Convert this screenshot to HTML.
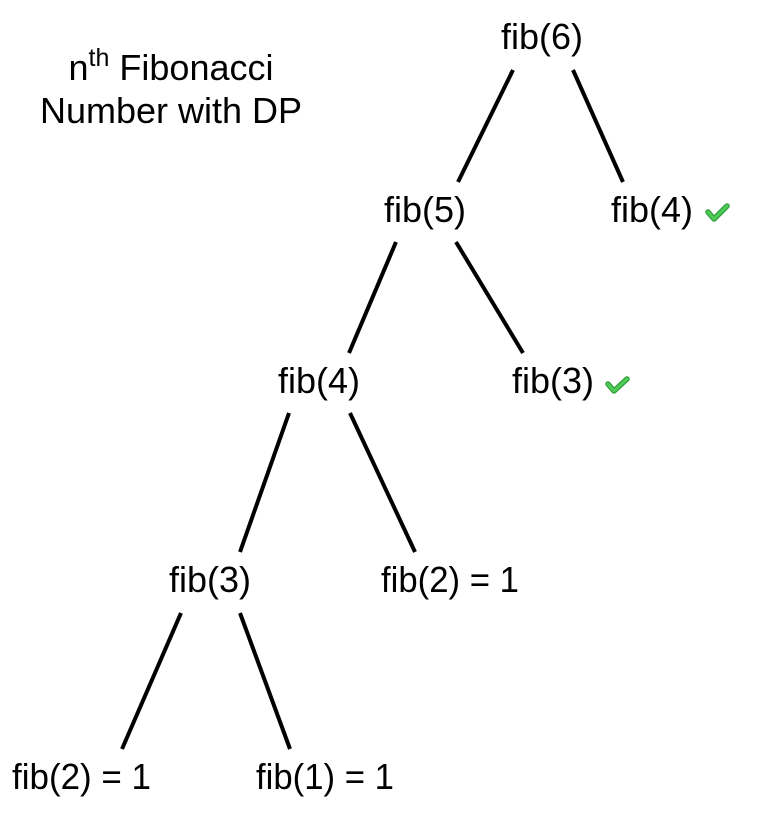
<!DOCTYPE html>
<html>
<head>
<meta charset="utf-8">
<style>
  html, body { margin: 0; padding: 0; background: #ffffff; }
  body { width: 766px; height: 821px; overflow: hidden; }
  svg { display: block; }
  text { font-family: "Liberation Sans", Arial, Helvetica, sans-serif; fill: #000; }
</style>
</head>
<body>
<svg width="766" height="821" viewBox="0 0 766 821" xmlns="http://www.w3.org/2000/svg">
  <!-- Title -->
  <text x="171" y="80" font-size="36" text-anchor="middle">n<tspan font-size="25" dy="-14">th</tspan><tspan dy="14"> Fibonacci</tspan></text>
  <text x="171" y="123" font-size="36" text-anchor="middle">Number with DP</text>

  <!-- Connectors -->
  <g stroke="#000" stroke-width="4" stroke-linecap="butt" fill="none">
    <line x1="513" y1="70" x2="458" y2="182"/>
    <line x1="573" y1="70" x2="623" y2="182"/>
    <line x1="396" y1="242" x2="349" y2="353"/>
    <line x1="456" y1="242" x2="523" y2="353"/>
    <line x1="289" y1="413" x2="240" y2="552"/>
    <line x1="350" y1="413" x2="415" y2="552"/>
    <line x1="181" y1="613" x2="122" y2="749"/>
    <line x1="240" y1="613" x2="290" y2="749"/>
  </g>

  <!-- Nodes -->
  <g font-size="36">
    <text x="501" y="49">fib(6)</text>
    <text x="384" y="222">fib(5)</text>
    <text x="611" y="222">fib(4)</text>
    <text x="278" y="393">fib(4)</text>
    <text x="512" y="393">fib(3)</text>
    <text x="169" y="592">fib(3)</text>
    <text x="381" y="592" textLength="138" lengthAdjust="spacingAndGlyphs">fib(2) = 1</text>
    <text x="12" y="789" textLength="139" lengthAdjust="spacingAndGlyphs">fib(2) = 1</text>
    <text x="256" y="789" textLength="138" lengthAdjust="spacingAndGlyphs">fib(1) = 1</text>
  </g>

  <!-- Check marks -->
  <g fill="none" stroke-linecap="round" stroke-linejoin="round">
    <polyline points="708,212 714,219 727,206" stroke="#2f9e3b" stroke-width="5.5"/>
    <polyline points="708,212 714,219 727,206" stroke="#4fcc58" stroke-width="3"/>
    <polyline points="608,384 614,391 627,379" stroke="#2f9e3b" stroke-width="5.5"/>
    <polyline points="608,384 614,391 627,379" stroke="#4fcc58" stroke-width="3"/>
  </g>
</svg>
</body>
</html>
